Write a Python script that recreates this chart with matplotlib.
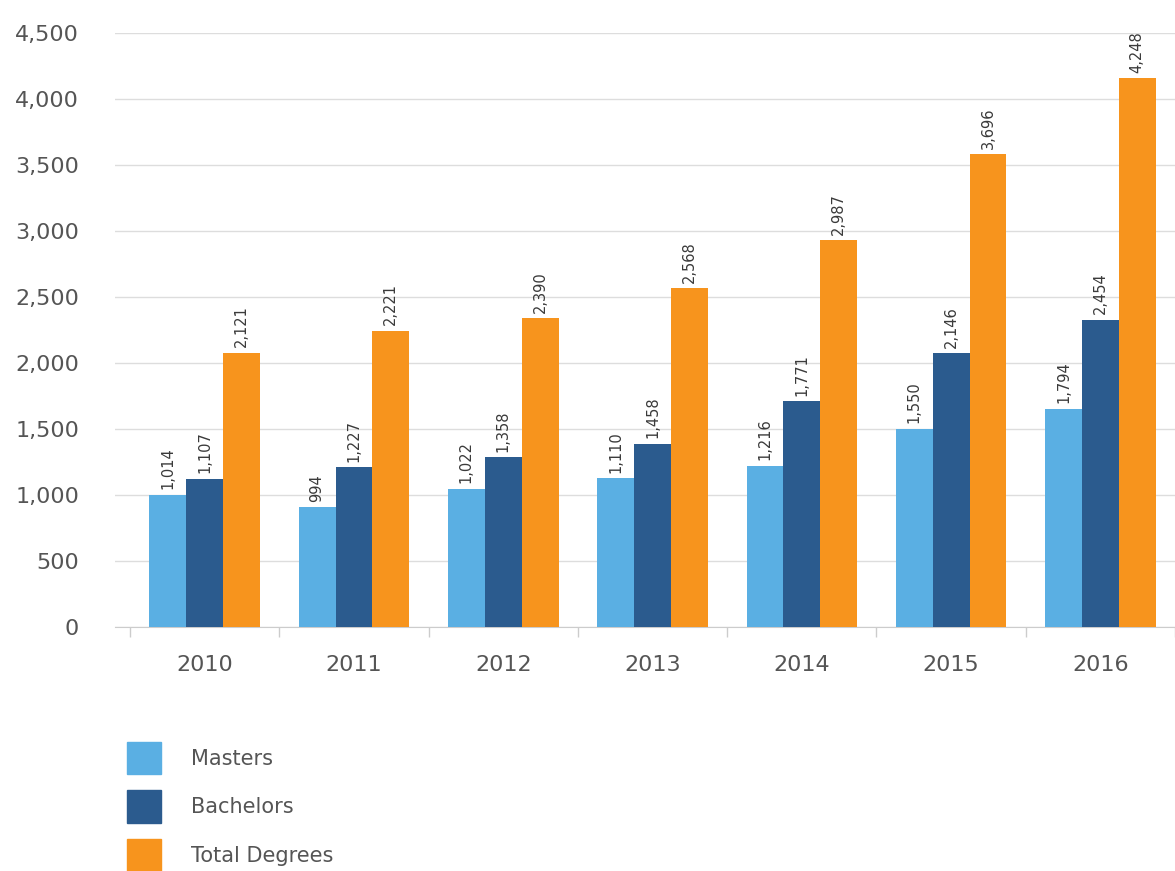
import matplotlib.pyplot as plt
from matplotlib.patches import Patch
import numpy as np

years = ["2010", "2011", "2012", "2013", "2014", "2015", "2016"]

# bar heights as drawn in the chart
masters = [1001, 908, 1047, 1127, 1223, 1502, 1656]
bachelors = [1123, 1211, 1286, 1388, 1712, 2074, 2328]
total = [2080, 2246, 2339, 2567, 2932, 3582, 4158]

# value labels printed above the bars
masters_labels = ["1,014", "994", "1,022", "1,110", "1,216", "1,550", "1,794"]
bachelors_labels = ["1,107", "1,227", "1,358", "1,458", "1,771", "2,146", "2,454"]
total_labels = ["2,121", "2,221", "2,390", "2,568", "2,987", "3,696", "4,248"]

colors = {"Masters": "#5aafe3", "Bachelors": "#2b5b8e", "Total Degrees": "#f7941d"}
text_gray = "#555555"

fig = plt.figure(figsize=(11.75, 8.71), dpi=100)
ax = fig.add_axes([0.098, 0.28, 0.902, 0.682])

x = np.arange(len(years))
w = 0.247
series = [
    ("Masters", masters, masters_labels, -w),
    ("Bachelors", bachelors, bachelors_labels, 0),
    ("Total Degrees", total, total_labels, w),
]
for name, vals, labels, off in series:
    bars = ax.bar(x + off, vals, width=w, color=colors[name], zorder=3)
    for b, lab in zip(bars, labels):
        ax.annotate(lab, (b.get_x() + b.get_width() / 2, b.get_height()),
                    xytext=(0, 4), textcoords="offset points",
                    rotation=90, ha="center", va="bottom",
                    fontsize=10.5, color="#3a3a3a", annotation_clip=False)

ax.set_xlim(-0.6, 6.47)
ax.set_ylim(0, 4500)
ax.set_yticks(range(0, 4501, 500))
ax.set_yticklabels([f"{v:,}" for v in range(0, 4501, 500)])
ax.yaxis.grid(True, color="#dddddd", linewidth=1, zorder=0)
ax.set_axisbelow(True)

ax.set_xticks(x)
ax.set_xticklabels(years)
ax.set_xticks(np.arange(-0.5, 6.6, 1), minor=True)
ax.tick_params(axis="x", which="major", length=0, pad=20, labelsize=16, labelcolor=text_gray)
ax.tick_params(axis="x", which="minor", length=7, color="#cccccc", width=1)
ax.tick_params(axis="y", length=0, pad=26, labelsize=16, labelcolor=text_gray)

for s in ["top", "right", "left"]:
    ax.spines[s].set_visible(False)
ax.spines["bottom"].set_color("#cccccc")

handles = [Patch(color=c, label=n) for n, c in colors.items()]
fig.legend(handles=handles, loc="upper left", bbox_to_anchor=(127 / 1175, 1 - 742 / 871),
           frameon=False, fontsize=15, handlelength=1.65, handleheight=2.0,
           handletextpad=1.4, labelspacing=0.78, borderpad=0, borderaxespad=0,
           labelcolor=text_gray)

fig.savefig("out.png", dpi=100)
